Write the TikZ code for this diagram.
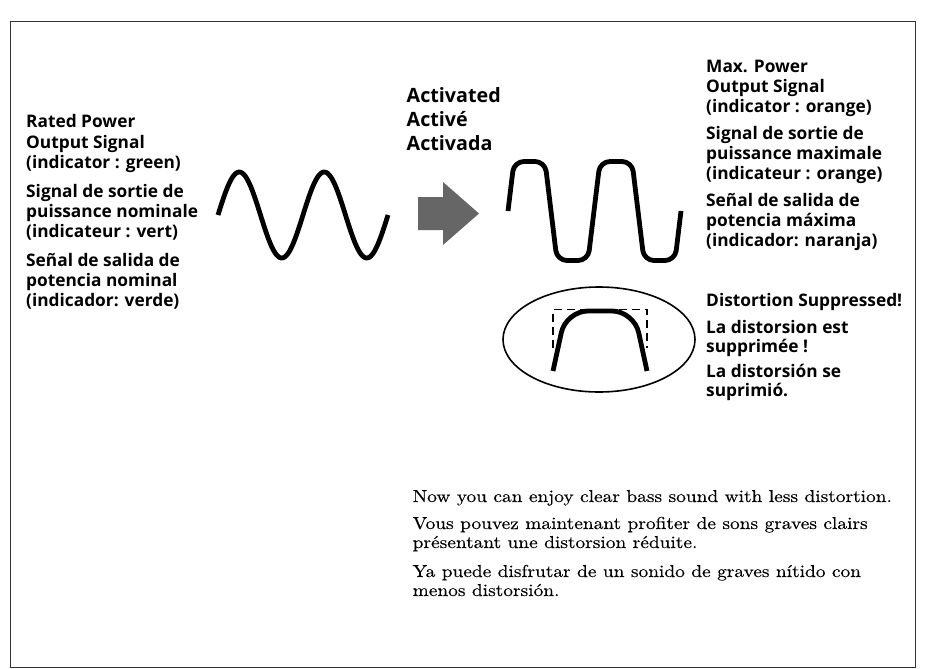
\documentclass[tikz,border=0pt]{standalone}
\usepackage{fontspec}
\newfontfamily\labfont{Open Sans}
\newfontfamily\bodyfont{lmroman10-regular.otf}[FakeStretch=1.12,FakeBold=0.35]
\definecolor{framegray}{HTML}{333333}
\definecolor{arrowgray}{HTML}{666666}
\tikzset{
  lbl/.style={anchor=base west, inner sep=0pt, font=\labfont\bfseries\fontsize{17.3}{20}\selectfont},
  biglbl/.style={anchor=base west, inner sep=0pt, font=\labfont\bfseries\fontsize{19.7}{24}\selectfont},
  body/.style={anchor=base west, inner sep=0pt, font=\bodyfont\fontsize{17.3}{20}\selectfont},
  wave/.style={line width=4.8pt, line join=round, line cap=butt},
}
\begin{document}
\begin{tikzpicture}[x=1pt,y=-1pt]
\useasboundingbox (0,0) rectangle (942,669);
\draw[framegray, line width=1pt] (10,22) rectangle (915,667);

% left block
\node[lbl] (l1) at (26,127) {Rated Power};
\node[lbl] (l2) at (26,148) {Output Signal};
\node[lbl] (l3) at (26,168) {(indicator : green)};
\node[lbl] (l4) at (26,197) {Signal de sortie de};
\node[lbl] (l5) at (26,217) {puissance nominale};
\node[lbl] (l6) at (26,237) {(indicateur : vert)};
\node[lbl] (l7) at (26,266.5) {Señal de salida de};
\node[lbl] (l8) at (26,286.5) {potencia nominal};
\node[lbl] (l9) at (26,306.5) {(indicador: verde)};

% middle
\node[biglbl] (m1) at (406.5,102) {Activated};
\node[biglbl] (m2) at (406.5,126.5) {Activé};
\node[biglbl] (m3) at (406.5,150) {Activada};

% right block
\node[lbl] (r1) at (706,73) {Max. Power};
\node[lbl] (r2) at (706,92.5) {Output Signal};
\node[lbl] (r3) at (706,112) {(indicator : orange)};
\node[lbl] (r4) at (706,139.5) {Signal de sortie de};
\node[lbl] (r5) at (706,159) {puissance maximale};
\node[lbl] (r6) at (706,179) {(indicateur : orange)};
\node[lbl] (r7) at (706,206.5) {Señal de salida de};
\node[lbl] (r8) at (706,226.5) {potencia máxima};
\node[lbl] (r9) at (706,246) {(indicador: naranja)};

% distortion block
\node[lbl] (d1) at (706,306.5) {Distortion Suppressed!};
\node[lbl] (d2) at (706,333) {La distorsion est};
\node[lbl] (d3) at (706,352.5) {supprimée !};
\node[lbl] (d4) at (706,377) {La distorsión se};
\node[lbl] (d5) at (706,396.5) {suprimió.};

% bottom text
\node[body] (b1) at (412.5,502) {Now you can enjoy clear bass sound with less distortion.};
\node[body] (b2) at (412.5,529) {Vous pouvez maintenant profiter de sons graves clairs};
\node[body] (b3) at (412.5,548) {présentant une distorsion réduite.};
\node[body] (b4) at (412.5,577) {Ya puede disfrutar de un sonido de graves nítido con};
\node[body] (b5) at (412.5,596) {menos distorsión.};

% sine wave
\draw[wave, domain=0:170, samples=120, smooth, variable=\t]
  plot ({218+\t},{215-43*sin(\t/85*360)});

% arrow
\fill[arrowgray] (418,197) -- (443,197) -- (443,182) -- (479,213.5) -- (443,245) -- (443,230) -- (418,230) -- cycle;

% clipped wave
\draw[wave, rounded corners=10pt]
  (508,211) -- (514,161.5) -- (545,161.5) -- (557,260.5) -- (588,260.5)
  -- (600,161.5) -- (632,161.5) -- (644,260.5) -- (675,260.5) -- (681,211);

% ellipse with detail
\draw[line width=1.6pt] (599,339.5) ellipse [x radius=96, y radius=52.5];
\draw[line width=1.6pt, dash pattern=on 8pt off 5pt] (553,348) -- (553,309.5) -- (647,309.5) -- (647,348);
\draw[line width=4.8pt, rounded corners=22pt] (553,371) -- (566,311) -- (634,311) -- (647,371);
\end{tikzpicture}
\end{document}
